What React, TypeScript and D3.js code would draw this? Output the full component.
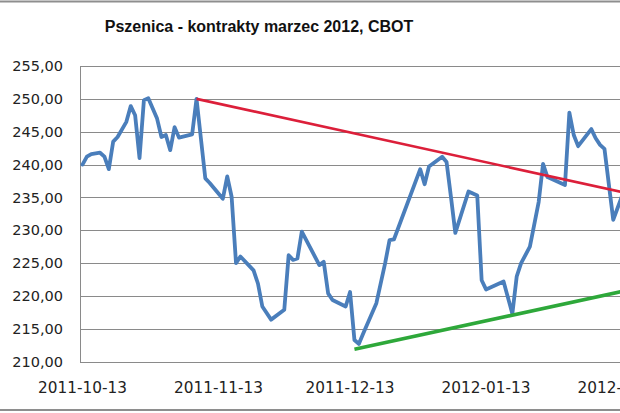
import React from "react";
import * as d3 from "d3";

const title = "Pszenica - kontrakty marzec 2012, CBOT";

const dates = [
  "2011-10-13","2011-10-14","2011-10-15","2011-10-17","2011-10-18","2011-10-19","2011-10-20","2011-10-21",
  "2011-10-23","2011-10-24","2011-10-25","2011-10-26","2011-10-27","2011-10-28","2011-10-30","2011-10-31",
  "2011-11-01","2011-11-02","2011-11-03","2011-11-04","2011-11-07","2011-11-08","2011-11-10","2011-11-11",
  "2011-11-14","2011-11-15","2011-11-16","2011-11-17","2011-11-18","2011-11-21","2011-11-22","2011-11-23",
  "2011-11-25","2011-11-28","2011-11-29","2011-11-30","2011-12-01","2011-12-02","2011-12-06","2011-12-07",
  "2011-12-08","2011-12-09","2011-12-12","2011-12-13","2011-12-14","2011-12-15","2011-12-16","2011-12-19",
  "2011-12-21","2011-12-22","2011-12-23","2011-12-29","2011-12-30","2011-12-31","2012-01-03","2012-01-04",
  "2012-01-05","2012-01-06","2012-01-09","2012-01-11","2012-01-12","2012-01-13","2012-01-17","2012-01-19",
  "2012-01-20","2012-01-21","2012-01-23","2012-01-25","2012-01-26","2012-01-27","2012-01-31","2012-02-01",
  "2012-02-02","2012-02-03","2012-02-06","2012-02-07","2012-02-08","2012-02-09","2012-02-11","2012-02-13",
  "2012-02-14",
];

const prices = [
  240.0, 241.2, 241.6, 241.8, 241.2, 239.3, 243.5, 244.2,
  246.5, 248.9, 247.5, 241.0, 249.8, 250.1, 247.0, 244.2,
  244.5, 242.2, 245.7, 244.1, 244.6, 250.0, 237.9, 237.2,
  234.8, 238.2, 235.1, 225.0, 226.0, 223.9, 221.9, 218.4,
  216.4, 217.9, 226.2, 225.5, 225.7, 229.8, 224.7, 225.2,
  220.4, 219.4, 218.4, 220.6, 213.3, 212.7, 214.3, 218.9,
  225.0, 228.5, 228.6, 239.3, 237.0, 239.7, 241.2, 240.4,
  235.1, 229.6, 235.9, 235.3, 222.4, 221.0, 222.2, 217.3,
  223.0, 225.0, 227.5, 234.3, 240.1, 238.1, 236.9, 247.9,
  244.5, 242.8, 245.4, 244.0, 243.0, 242.4, 231.6, 235.2,
  236.0,
];

// resistance (red) and support (green) trend lines
const resistanceDates = ["2011-11-08", "2012-02-20"];
const resistanceValues = [250.0, 234.8];
const supportDates = ["2011-12-14", "2012-02-20"];
const supportValues = [211.9, 221.7];

const yTicks = [210, 215, 220, 225, 230, 235, 240, 245, 250, 255];
const xTickLabels = ["2011-10-13", "2011-11-13", "2011-12-13", "2012-01-13", "2012-02-13"];

const W = 620;
const H = 413;

export default function App() {
  const parse = d3.timeParse("%Y-%m-%d");
  const x = d3
    .scaleTime()
    .domain([parse("2011-10-13") as Date, parse("2012-02-13") as Date])
    .range([82.5, 622]);
  const y = d3.scaleLinear().domain([210, 255]).range([361.7, 66]);

  const plotLeft = 80;
  const plotRight = 700;

  const line = d3
    .line<[Date, number]>()
    .x((d) => x(d[0]))
    .y((d) => y(d[1]));

  const series: [Date, number][] = dates.map((d, i) => [parse(d) as Date, prices[i]]);
  const red: [Date, number][] = resistanceDates.map((d, i) => [parse(d) as Date, resistanceValues[i]]);
  const green: [Date, number][] = supportDates.map((d, i) => [parse(d) as Date, supportValues[i]]);

  const fmt = (v: number) => v.toFixed(2).replace(".", ",");

  return (
    <div style={{ position: "absolute", left: 0, top: 0, width: W, height: H, overflow: "hidden", background: "#fff" }}>
      <svg width={W} height={H} style={{ display: "block" }}>
        <rect x={0} y={0} width={W} height={H} fill="#fff" />
        {/* outer chart border (cropped) */}
        <line x1={0} x2={W} y1={1.5} y2={1.5} stroke="#8e8e8e" strokeWidth={2} />
        <line x1={0} x2={W} y1={410} y2={410} stroke="#8e8e8e" strokeWidth={2} />

        <text
          x={259}
          y={32}
          textAnchor="middle"
          fontFamily="'Liberation Sans', Arial, sans-serif"
          fontWeight="bold"
          fontSize={16}
          fill="#111"
        >
          {title}
        </text>

        {/* gridlines */}
        {yTicks.map((t) => (
          <line
            key={t}
            x1={plotLeft}
            x2={plotRight}
            y1={Math.round(y(t)) + 0.5}
            y2={Math.round(y(t)) + 0.5}
            stroke="#8a8a8a"
            strokeWidth={1}
          />
        ))}
        {/* y axis line */}
        <line x1={plotLeft + 0.5} x2={plotLeft + 0.5} y1={y(255)} y2={y(210) + 0.5} stroke="#8a8a8a" strokeWidth={1} />

        {/* y tick labels */}
        {yTicks.map((t) => (
          <text
            key={t}
            x={63}
            y={y(t)}
            dy="0.36em"
            textAnchor="end"
            fontFamily="'DejaVu Sans', sans-serif"
            fontSize={14.5}
            fill="#222"
          >
            {fmt(t)}
          </text>
        ))}

        {/* x tick labels */}
        {xTickLabels.map((l) => (
          <text
            key={l}
            x={x(parse(l) as Date)}
            y={392.5}
            textAnchor="middle"
            fontFamily="'DejaVu Sans', sans-serif"
            fontSize={15.3}
            fill="#222"
          >
            {l}
          </text>
        ))}

        {/* price line */}
        <path
          d={line(series) || ""}
          fill="none"
          stroke="#4a7ebb"
          strokeWidth={3.8}
          strokeLinejoin="round"
          strokeLinecap="round"
        />
        {/* trend lines */}
        <path d={line(red) || ""} fill="none" stroke="#dc1f3a" strokeWidth={2.6} />
        <path d={line(green) || ""} fill="none" stroke="#2ea83a" strokeWidth={3.6} />
      </svg>
    </div>
  );
}
